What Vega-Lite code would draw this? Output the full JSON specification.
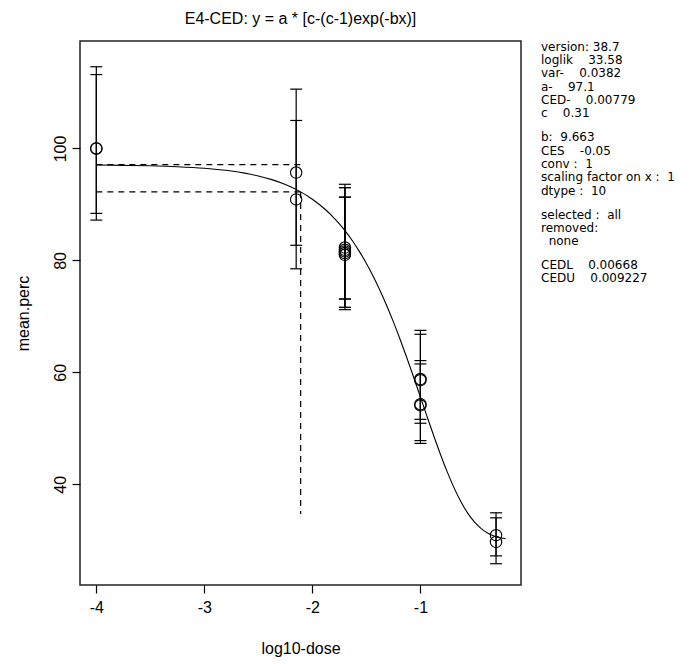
{
  "$schema": "https://vega.github.io/schema/vega-lite/v6.json",
  "background": "white",
  "autosize": {"type": "pad"},
  "padding": {"left": 14, "top": 10, "right": 0, "bottom": 0},
  "spacing": 19,
  "config": {
    "font": "Liberation Sans",
    "view": {"stroke": null},
    "axis": {"grid": false, "domain": false, "tickColor": "#000", "tickSize": 8, "tickWidth": 1.2, "labelColor": "#000", "labelFont": "Liberation Sans", "labelFontSize": 16, "titleFont": "Liberation Sans", "titleFontSize": 16, "titleFontWeight": "normal", "titleColor": "#000"},
    "title": {"font": "Liberation Sans", "fontSize": 16, "fontWeight": "normal", "color": "#000", "offset": 14}
  },
  "datasets": {
    "pts": [
      {"x": -4, "y": 100.0, "lo": 87.2, "hi": 114.6},
      {"x": -4, "y": 100.0, "lo": 88.4, "hi": 113.2},
      {"x": -2.15, "y": 95.7, "lo": 82.7, "hi": 110.6},
      {"x": -2.15, "y": 90.9, "lo": 78.5, "hi": 105.0},
      {"x": -1.699, "y": 82.3, "lo": 71.6, "hi": 93.6},
      {"x": -1.699, "y": 81.9, "lo": 71.2, "hi": 93.0},
      {"x": -1.699, "y": 81.6, "lo": 73.1, "hi": 91.3},
      {"x": -1.699, "y": 81.3, "lo": 71.6, "hi": 93.0},
      {"x": -1.699, "y": 81.0, "lo": 73.1, "hi": 91.3},
      {"x": -1.0, "y": 58.8, "lo": 50.9, "hi": 67.5},
      {"x": -1.0, "y": 58.6, "lo": 51.6, "hi": 66.8},
      {"x": -1.0, "y": 54.3, "lo": 47.3, "hi": 62.1},
      {"x": -1.0, "y": 54.1, "lo": 47.8, "hi": 61.5},
      {"x": -0.3, "y": 30.9, "lo": 27.2, "hi": 34.9},
      {"x": -0.3, "y": 29.7, "lo": 25.8, "hi": 34.0}
    ],
    "curve": [
      {"x": -4.0, "y": 97.04},
      {"x": -3.75, "y": 96.98},
      {"x": -3.5, "y": 96.9},
      {"x": -3.25, "y": 96.74},
      {"x": -3.0, "y": 96.46},
      {"x": -2.75, "y": 95.96},
      {"x": -2.5, "y": 95.08},
      {"x": -2.375, "y": 94.43},
      {"x": -2.25, "y": 93.56},
      {"x": -2.125, "y": 92.42},
      {"x": -2.0, "y": 90.93},
      {"x": -1.875, "y": 89.0},
      {"x": -1.8125, "y": 87.84},
      {"x": -1.75, "y": 86.52},
      {"x": -1.6875, "y": 85.04},
      {"x": -1.625, "y": 83.38},
      {"x": -1.5625, "y": 81.52},
      {"x": -1.5, "y": 79.46},
      {"x": -1.4375, "y": 77.18},
      {"x": -1.375, "y": 74.68},
      {"x": -1.3125, "y": 71.95},
      {"x": -1.25, "y": 69.01},
      {"x": -1.1875, "y": 65.87},
      {"x": -1.125, "y": 62.56},
      {"x": -1.0625, "y": 59.12},
      {"x": -1.0, "y": 55.59},
      {"x": -0.9375, "y": 52.05},
      {"x": -0.875, "y": 48.57},
      {"x": -0.8125, "y": 45.23},
      {"x": -0.75, "y": 42.12},
      {"x": -0.6875, "y": 39.31},
      {"x": -0.625, "y": 36.88},
      {"x": -0.5625, "y": 34.85},
      {"x": -0.5, "y": 33.26},
      {"x": -0.4375, "y": 32.07},
      {"x": -0.375, "y": 31.24},
      {"x": -0.3125, "y": 30.71},
      {"x": -0.25, "y": 30.39},
      {"x": -0.21, "y": 30.27}
    ],
    "dash": [
      {"x": -4, "x2": -2.1085, "y": 97.1, "y2": 97.1},
      {"x": -4, "x2": -2.1085, "y": 92.24, "y2": 92.24},
      {"x": -2.1085, "x2": -2.1085, "y": 92.24, "y2": 34.7}
    ],
    "info": [
      {"row": 0, "col": 0, "label": "version: 38.7"},
      {"row": 1, "col": 0, "label": "loglik\u00a0\u00a0\u00a0\u00a033.58"},
      {"row": 2, "col": 0, "label": "var-\u00a0\u00a0\u00a0\u00a00.0382"},
      {"row": 3, "col": 0, "label": "a-\u00a0\u00a0\u00a0\u00a097.1"},
      {"row": 4, "col": 0, "label": "CED-\u00a0\u00a0\u00a0\u00a00.00779"},
      {"row": 5, "col": 0, "label": "c\u00a0\u00a0\u00a0\u00a00.31"},
      {"row": 6.8, "col": 0, "label": "b:\u00a0\u00a09.663"},
      {"row": 7.8, "col": 0, "label": "CES\u00a0\u00a0\u00a0\u00a0-0.05"},
      {"row": 8.8, "col": 0, "label": "conv\u00a0:\u00a0\u00a01"},
      {"row": 9.8, "col": 0, "label": "scaling factor on x\u00a0:\u00a0\u00a01"},
      {"row": 10.8, "col": 0, "label": "dtype\u00a0:\u00a0\u00a010"},
      {"row": 12.6, "col": 0, "label": "selected\u00a0:\u00a0\u00a0all"},
      {"row": 13.6, "col": 0, "label": "removed:"},
      {"row": 14.6, "col": 0, "label": "\u200b\u00a0\u00a0none"},
      {"row": 16.35, "col": 0, "label": "CEDL\u00a0\u00a0\u00a0\u00a00.00668"},
      {"row": 17.35, "col": 0, "label": "CEDU\u00a0\u00a0\u00a0\u00a00.009227"}
    ]
  },
  "hconcat": [
    {
      "title": {"text": "E4-CED: y = a * [c-(c-1)exp(-bx)]", "anchor": "middle"},
      "width": 441,
      "height": 544,
      "view": {"stroke": "#222", "strokeWidth": 1.5},
      "encoding": {
        "x": {"field": "x", "type": "quantitative", "scale": {"domain": [-4.151, -0.069], "nice": false, "zero": false}, "axis": {"values": [-4, -3, -2, -1], "labelExpr": "datum.value < 0 ? '-' + abs(datum.value) : '' + datum.value", "title": "log10-dose", "labelPadding": 6, "titlePadding": 25}}
      },
      "layer": [
        {
          "data": {"name": "dash"},
          "mark": {"type": "rule", "color": "#000", "strokeWidth": 1.2, "strokeDash": [6, 5]},
          "encoding": {
            "x2": {"field": "x2"},
            "y": {"field": "y", "type": "quantitative", "scale": {"domain": [22.0, 119.2], "nice": false, "zero": false}, "axis": {"values": [40, 60, 80, 100], "title": "mean.perc", "labelAngle": -90, "labelAlign": "center", "labelBaseline": "bottom", "labelPadding": 4, "titlePadding": 21}},
            "y2": {"field": "y2"}
          }
        },
        {
          "data": {"name": "curve"},
          "mark": {"type": "line", "color": "#000", "strokeWidth": 1.1, "interpolate": "monotone"},
          "encoding": {
            "y": {"field": "y", "type": "quantitative"}
          }
        },
        {
          "data": {"name": "pts"},
          "mark": {"type": "rule", "color": "#000", "strokeWidth": 1.2},
          "encoding": {
            "y": {"field": "lo", "type": "quantitative"},
            "y2": {"field": "hi"}
          }
        },
        {
          "data": {"name": "pts"},
          "mark": {"type": "tick", "orient": "horizontal", "size": 12, "thickness": 1.2, "color": "#000", "opacity": 1},
          "encoding": {
            "y": {"field": "lo", "type": "quantitative"}
          }
        },
        {
          "data": {"name": "pts"},
          "mark": {"type": "tick", "orient": "horizontal", "size": 12, "thickness": 1.2, "color": "#000", "opacity": 1},
          "encoding": {
            "y": {"field": "hi", "type": "quantitative"}
          }
        },
        {
          "data": {"name": "pts"},
          "mark": {"type": "point", "shape": "circle", "filled": false, "size": 130, "stroke": "#000", "strokeWidth": 1.1, "opacity": 1},
          "encoding": {
            "y": {"field": "y", "type": "quantitative"}
          }
        }
      ]
    },
    {
      "title": {"text": " ", "anchor": "middle"},
      "width": 152,
      "height": 544,
      "data": {"name": "info"},
      "mark": {"type": "text", "align": "left", "baseline": "middle", "font": "DejaVu Sans", "fontSize": 12, "color": "#000"},
      "encoding": {
        "x": {"field": "col", "type": "quantitative", "scale": {"domain": [0, 1], "nice": false, "zero": false}, "axis": null},
        "y": {"field": "row", "type": "quantitative", "scale": {"domain": [-0.43, 40.37], "nice": false, "zero": false, "reverse": true}, "axis": null},
        "text": {"field": "label"}
      }
    }
  ]
}
